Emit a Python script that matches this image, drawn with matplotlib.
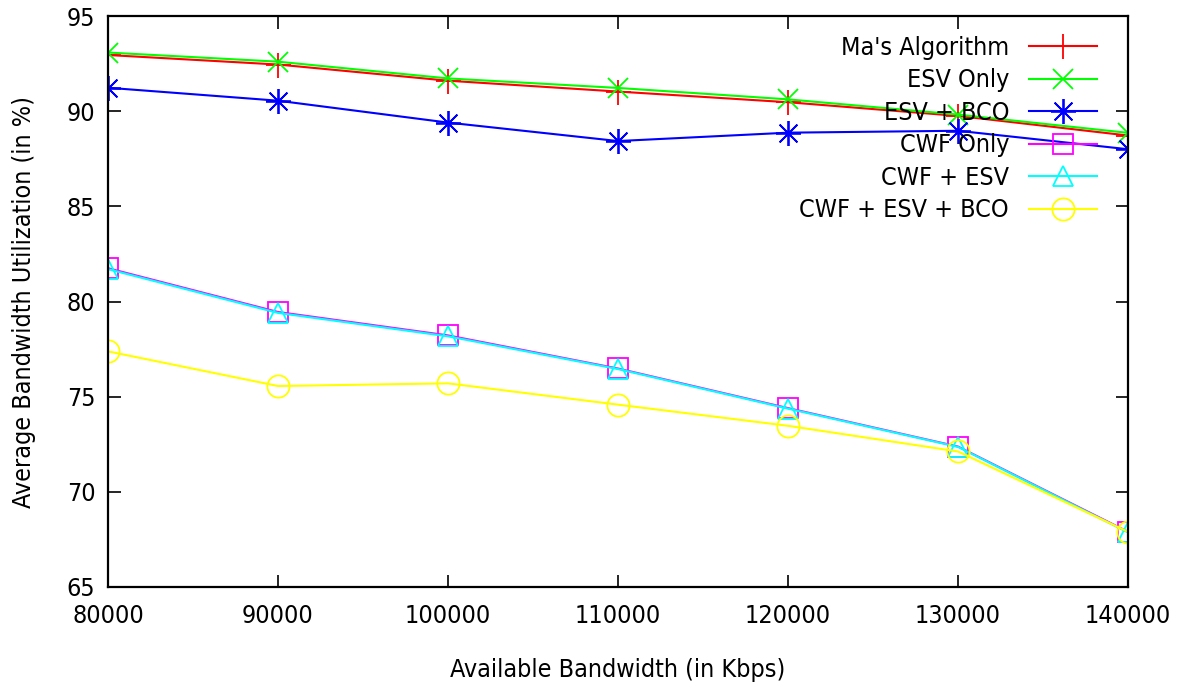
import numpy as np
import matplotlib.pyplot as plt

plt.rcParams['font.family'] = ['DejaVu Sans']
plt.rcParams['font.stretch'] = 'condensed'

bandwidth = [80000, 90000, 100000, 110000, 120000, 130000, 140000]

mas_algorithm = [92.95, 92.45, 91.6, 91.03, 90.47, 89.75, 88.72]
esv_only = [93.08, 92.6, 91.72, 91.22, 90.62, 89.82, 88.86]
esv_bco = [91.23, 90.55, 89.4, 88.43, 88.87, 88.97, 88.0]
cwf_only = [81.75, 79.45, 78.22, 76.48, 74.4, 72.38, 67.9]
cwf_esv = [81.7, 79.4, 78.17, 76.45, 74.37, 72.36, 67.87]
cwf_esv_bco = [77.38, 75.56, 75.7, 74.58, 73.47, 72.12, 67.9]

labels = ["Ma's Algorithm", "ESV Only", "ESV + BCO",
          "CWF Only", "CWF + ESV", "CWF + ESV + BCO"]

fig = plt.figure(figsize=(11.77, 6.86), dpi=100)
ax = fig.add_axes([108 / 1177, 1 - 587 / 686, 1020 / 1177, 571 / 686])

ax.plot(bandwidth, mas_algorithm, color='#ff0000', lw=1.5, marker='+',
        ms=18, mew=1.3, label=labels[0])
ax.plot(bandwidth, esv_only, color='#00ff00', lw=1.5, marker='x',
        ms=14, mew=1.3, label=labels[1])
ax.plot(bandwidth, esv_bco, color='#0000ff', lw=1.5, marker=(8, 2, 0),
        ms=18, mew=1.3, label=labels[2])
ax.plot(bandwidth, cwf_only, color='#ff00ff', lw=1.5, marker='s',
        ms=14, mew=1.3, mfc='none', label=labels[3])
ax.plot(bandwidth, cwf_esv, color='#00ffff', lw=1.5, marker='^',
        ms=14, mew=1.3, mfc='none', label=labels[4])
ax.plot(bandwidth, cwf_esv_bco, color='#ffff00', lw=1.5, marker='o',
        ms=16, mew=1.3, mfc='none', label=labels[5])

ax.set_xlim(80000, 140000)
ax.set_ylim(65, 95)
ax.set_xticks(bandwidth)
ax.set_xticklabels([str(b) for b in bandwidth])
ax.set_yticks(np.arange(65, 96, 5))

for s in ax.spines.values():
    s.set_linewidth(1.6)
ax.tick_params(direction='in', length=9, width=1.2, labelsize=18,
               top=True, right=True, pad=12)
ax.tick_params(axis='y', pad=9)

ax.set_xlabel('Available Bandwidth (in Kbps)', fontsize=18, labelpad=22)
ax.set_ylabel('Average Bandwidth Utilization (in %)', fontsize=18, labelpad=22)

ax.legend(loc='upper right', frameon=False, markerfirst=False, fontsize=18,
          handlelength=2.7, labelspacing=0.34, handletextpad=0.8,
          borderaxespad=0.0, bbox_to_anchor=(0.979, 0.9825))

fig.savefig('out.png', dpi=100)
